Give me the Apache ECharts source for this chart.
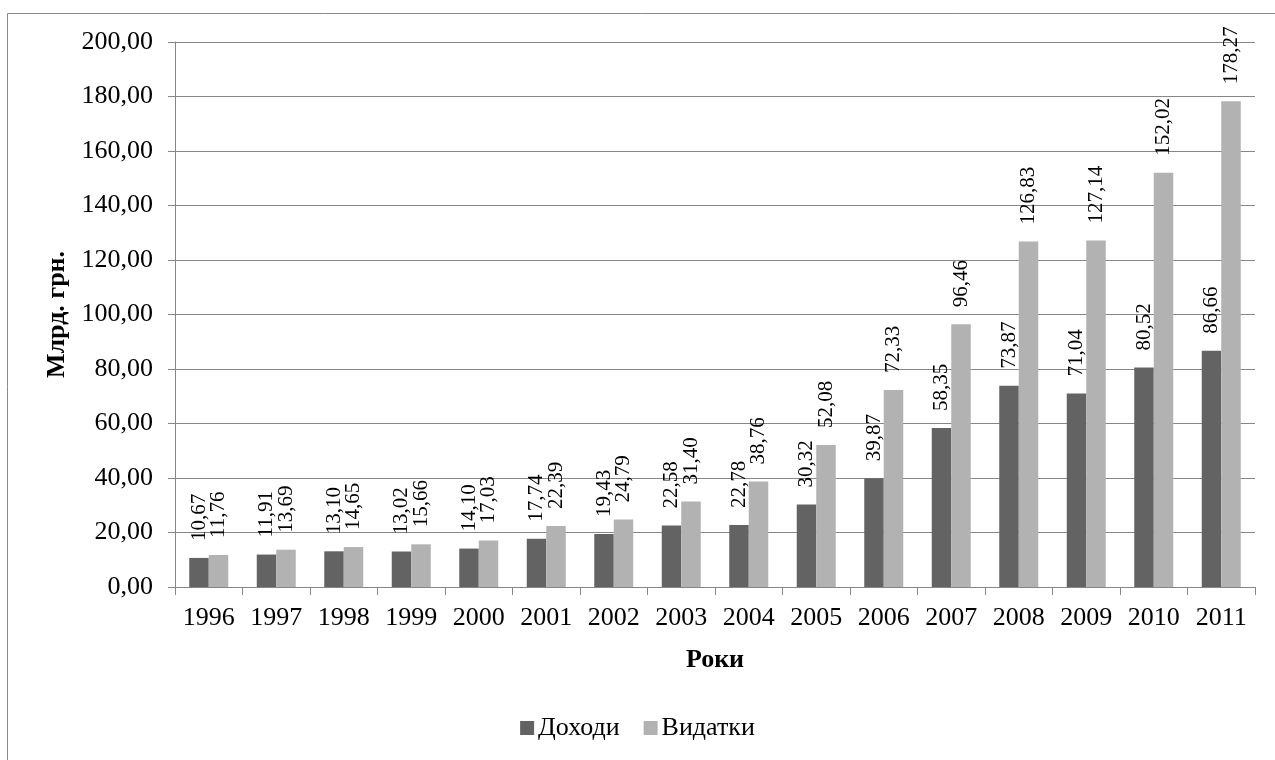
<!DOCTYPE html>
<html>
<head>
<meta charset="utf-8">
<script src="https://cdn.jsdelivr.net/npm/echarts@6/dist/echarts.min.js"></script>
<style>
  html, body { margin: 0; padding: 0; background: #fff; }
  #chart { width: 1275px; height: 760px; }
</style>
</head>
<body>
<div id="chart"></div>
<script>
// роки та значення, млрд. грн.
const years = ['1996', '1997', '1998', '1999', '2000', '2001', '2002', '2003',
  '2004', '2005', '2006', '2007', '2008', '2009', '2010', '2011'];
const revenues = [10.67, 11.91, 13.10, 13.02, 14.10, 17.74, 19.43, 22.58,
  22.78, 30.32, 39.87, 58.35, 73.87, 71.04, 80.52, 86.66];
const expenses = [11.76, 13.69, 14.65, 15.66, 17.03, 22.39, 24.79, 31.40,
  38.76, 52.08, 72.33, 96.46, 126.83, 127.14, 152.02, 178.27];

const font = '"Liberation Serif", "Times New Roman", serif';
const axisGray = '#868686';

const fmt = v => v.toFixed(2).replace('.', ',');

const chart = echarts.init(document.getElementById('chart'));

const labelStyle = {
  show: true,
  position: 'top',
  rotate: 90,
  align: 'left',
  verticalAlign: 'middle',
  distance: 17,
  fontFamily: font,
  fontSize: 21,
  color: '#000',
  formatter: p => fmt(p.value),
};

const option = {
  animation: false,
  backgroundColor: '#fff',
  textStyle: { fontFamily: font },
  grid: { left: 175, right: 20, top: 42, bottom: 173, containLabel: false },
  graphic: [
    { type: 'line', shape: { x1: 7.5, y1: 13.5, x2: 1275, y2: 13.5 }, style: { stroke: '#8a8a8a', lineWidth: 1 } },
    { type: 'line', shape: { x1: 7.5, y1: 13.5, x2: 7.5, y2: 760 }, style: { stroke: '#8a8a8a', lineWidth: 1 } },
  ],
  legend: {
    bottom: 14,
    left: 'center',
    itemWidth: 14,
    itemHeight: 14,
    itemGap: 24,
    icon: 'rect',
    textStyle: { fontFamily: font, fontSize: 26, color: '#000', padding: [0, 0, 0, -1] },
    data: ['Доходи', 'Видатки'],
  },
  xAxis: {
    type: 'category',
    data: years,
    name: 'Роки',
    nameLocation: 'middle',
    nameGap: 60,
    nameTextStyle: { fontFamily: font, fontSize: 26, fontWeight: 'bold', color: '#000' },
    axisLine: { lineStyle: { color: axisGray, width: 1 } },
    axisTick: { show: true, alignWithLabel: false, length: 8, lineStyle: { color: axisGray } },
    axisLabel: { fontFamily: font, fontSize: 26, color: '#000', margin: 18, interval: 0 },
  },
  yAxis: {
    type: 'value',
    min: 0,
    max: 200,
    interval: 20,
    name: 'Млрд. грн.',
    nameLocation: 'middle',
    nameGap: 103,
    nameRotate: 90,
    nameTextStyle: { fontFamily: font, fontSize: 26, fontWeight: 'bold', color: '#000' },
    axisLine: { show: true, lineStyle: { color: axisGray, width: 1 } },
    axisTick: { show: true, length: 7, lineStyle: { color: axisGray } },
    axisLabel: { fontFamily: font, fontSize: 26, color: '#000', margin: 22, formatter: v => fmt(v) },
    splitLine: { show: true, lineStyle: { color: axisGray, width: 1 } },
  },
  series: [
    {
      name: 'Доходи',
      type: 'bar',
      data: revenues,
      barWidth: 19.5,
      barGap: '0%',
      itemStyle: { color: '#636363' },
      label: labelStyle,
    },
    {
      name: 'Видатки',
      type: 'bar',
      data: expenses,
      barWidth: 19.5,
      barGap: '0%',
      itemStyle: { color: '#b2b2b2' },
      label: labelStyle,
    },
  ],
};

chart.setOption(option);
</script>
</body>
</html>
